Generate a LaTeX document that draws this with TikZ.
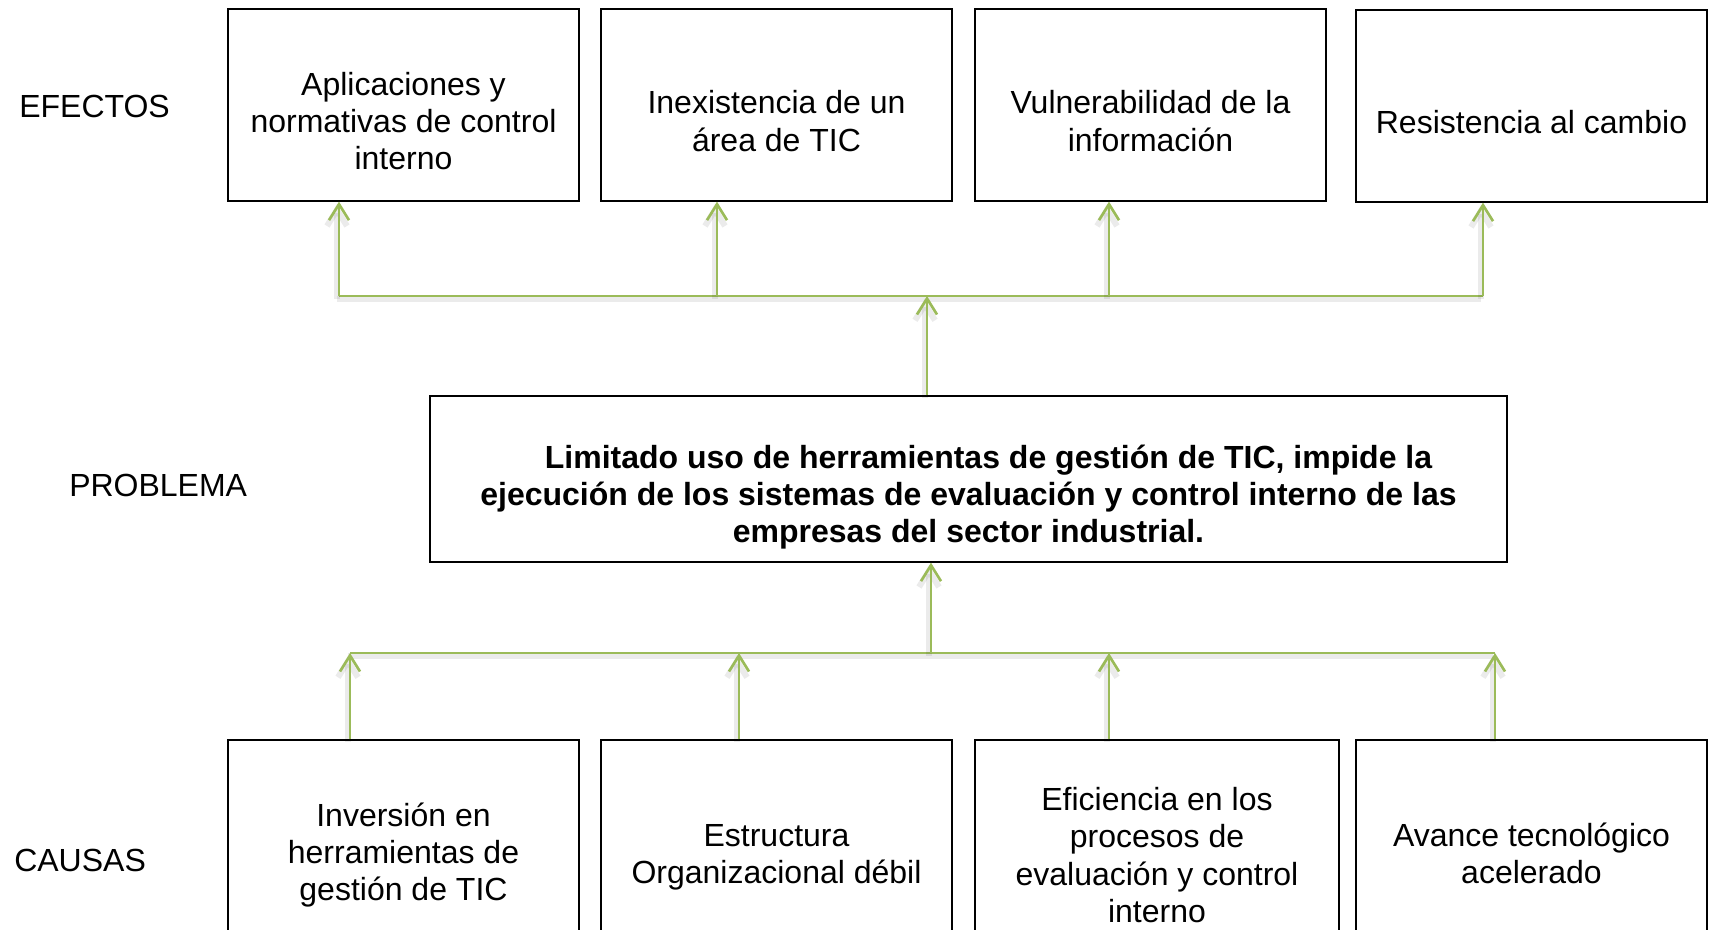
\documentclass[tikz,border=0pt]{standalone}
\usepackage{fontspec}
\setmainfont{Liberation Sans}
\usetikzlibrary{arrows.meta,positioning}
\definecolor{verde}{HTML}{9BBB59}

\begin{document}
\begin{tikzpicture}[x=0.75pt,y=-0.75pt,
	caja/.style={draw,line width=1pt,minimum width=263.25pt,minimum height=144pt,inner sep=0pt},
	texto/.style={align=center,inner sep=0pt,font=\fontsize{24}{28}\selectfont},
	rama/.style={verde,line width=2pt,
		preaction={draw=black,opacity=0.08,line width=4.5pt,transform canvas={shift={(-1.5pt,-2pt)}}}},
	flecha/.style={rama,-{Straight Barb[length=12pt,width=15pt]}}]
		\clip (0,0) rectangle (1717,930);
		% efectos
		\path (403.5,105) node(e1)[caja]{}
		(776.5,105) node(e2)[caja]{}
		(1150.5,105) node(e3)[caja]{}
		(1531.5,106) node(e4)[caja]{};
		\node(te1)[texto] at ([yshift=-12pt]e1.center) {Aplicaciones y\\normativas de control\\interno};
		\node(te2)[texto] at ([yshift=-12pt]e2.center) {Inexistencia de un\\área de TIC};
		\node(te3)[texto] at ([yshift=-12pt]e3.center) {Vulnerabilidad de la\\información};
		\node(te4)[texto] at ([yshift=-12pt]e4.center) {Resistencia al cambio};
		% problema
		\node(prob)[caja,minimum width=807.75pt,minimum height=124.5pt] at (968.5,479) {};
		\node(tprob)[texto,font=\fontsize{24}{28}\selectfont\bfseries] at ([yshift=-13.5pt]prob.center)
		{\hspace*{30pt}Limitado uso de herramientas de gestión de TIC, impide la\\ejecución de los sistemas de evaluación y control interno de las\\empresas del sector industrial.};
		% causas
		\path (403.5,839) node(b1)[caja,minimum height=148.5pt]{}
		(776.5,839) node(b2)[caja,minimum height=148.5pt]{}
		(1157,839) node(b3)[caja,minimum height=148.5pt,minimum width=273pt]{}
		(1531.5,839) node(b4)[caja,minimum height=148.5pt]{};
		\node(tb1)[texto] at ([yshift=-12pt]b1.center) {Inversión en\\herramientas de\\gestión de TIC};
		\node(tb2)[texto] at ([yshift=-13.5pt]b2.center) {Estructura\\Organizacional débil};
		\node(tb3)[texto] at ([yshift=-12pt]b3.center) {Eficiencia en los\\procesos de\\evaluación y control\\interno};
		\node(tb4)[texto] at ([yshift=-11pt]b4.center) {Avance tecnológico\\acelerado};
		% etiquetas
		\node(lef)[texto,anchor=west] at (19,106) {EFECTOS};
		\node(lpr)[texto,anchor=west] at (69,485) {PROBLEMA};
		\node(lca)[texto,anchor=west] at (14,860) {CAUSAS};
		% ramas de efectos
		\coordinate (s1) at (339,296);
		\coordinate (s2) at (717,296);
		\coordinate (s3) at (1109,296);
		\coordinate (s4) at (1483,296);
		\coordinate (sc) at (927,296);
		\draw[rama] (s1) -- (s4);
		\foreach \i in {1,...,4}
			\draw[flecha] (s\i) -- (s\i |- e\i.south);
		\draw[flecha] (sc |- prob.north) -- (sc);
		% ramas de causas
		\coordinate (c1) at (350,653);
		\coordinate (c2) at (739,653);
		\coordinate (c3) at (1109,653);
		\coordinate (c4) at (1495,653);
		\coordinate (cc) at (931,653);
		\draw[rama] (c1) -- (c4);
		\foreach \i in {1,...,4}
			\draw[flecha] (c\i |- b\i.north) -- (c\i);
		\draw[flecha] (cc) -- (cc |- prob.south);
	\end{tikzpicture}
\end{document}
